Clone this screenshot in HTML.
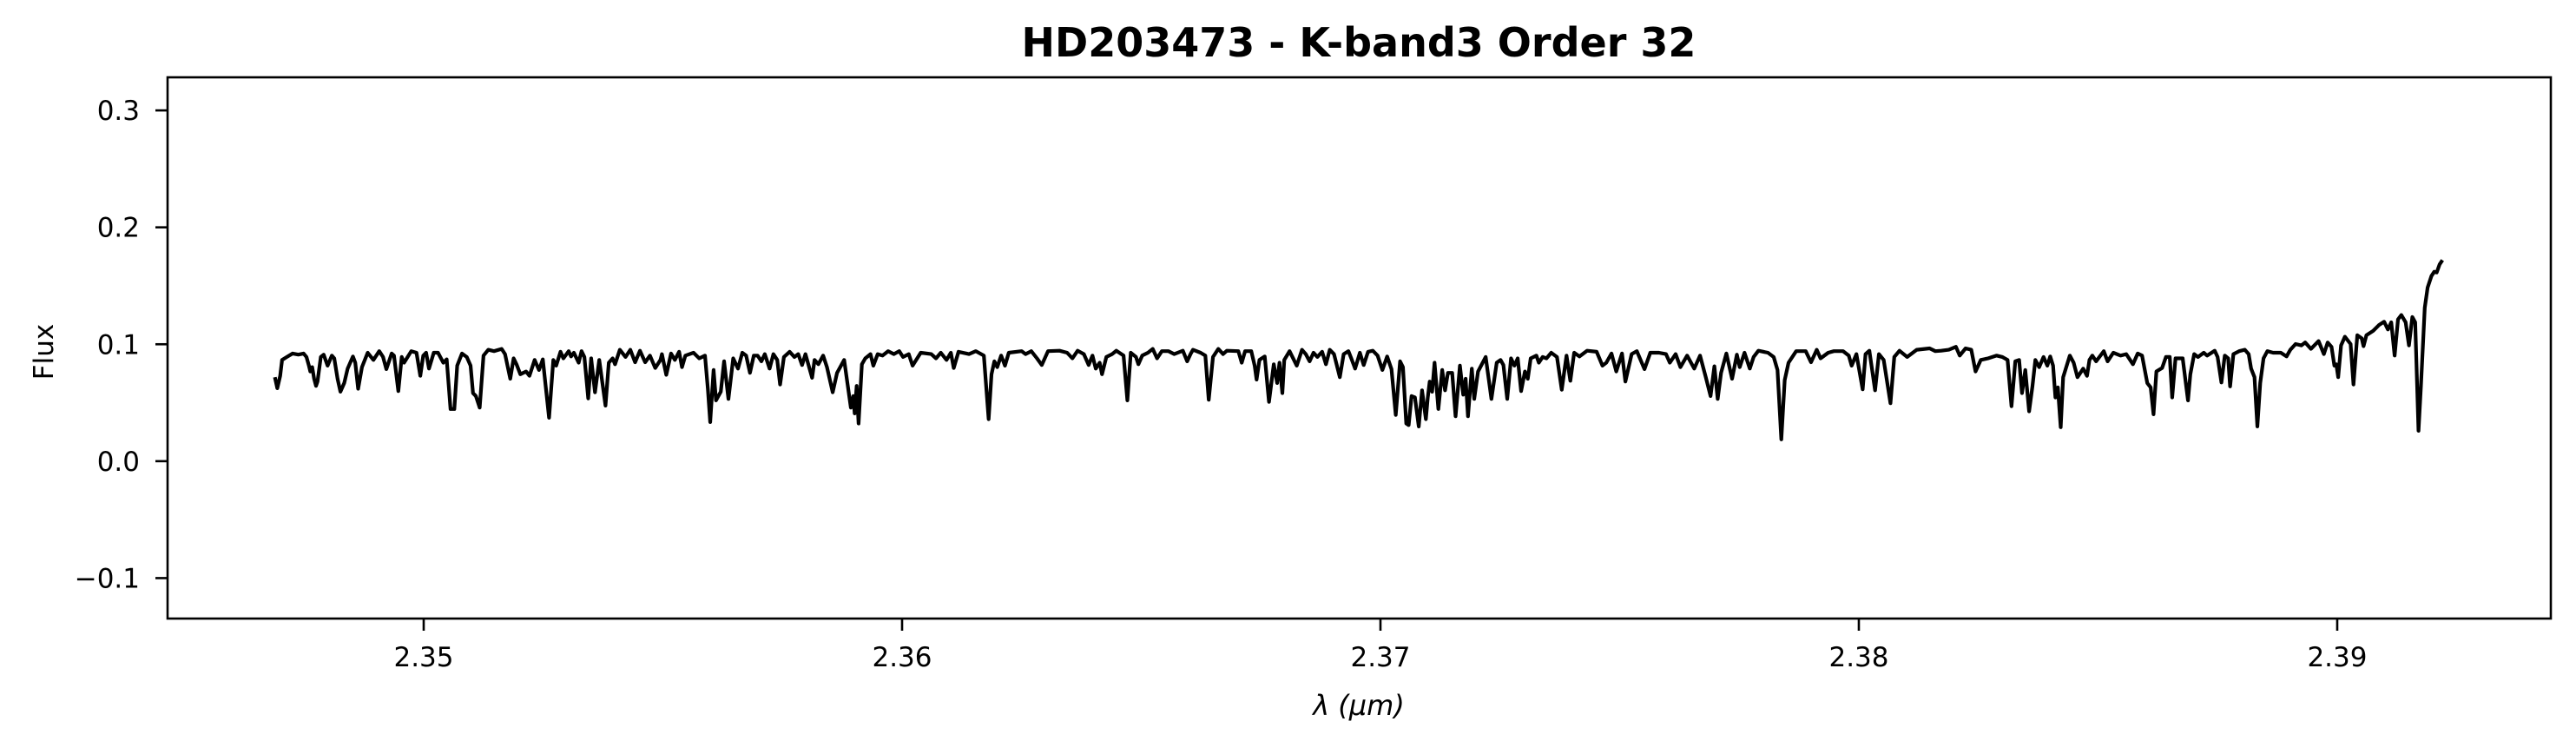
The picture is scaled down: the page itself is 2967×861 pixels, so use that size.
<!DOCTYPE html>
<html><head><meta charset="utf-8">
<style>
html,body{margin:0;padding:0;background:#fff;}
svg{display:block;}
text{font-family:"DejaVu Sans","Liberation Sans",sans-serif;fill:#000;}
</style></head>
<body>
<svg id="chart" width="2967" height="861" viewBox="0 0 2967 861" xmlns="http://www.w3.org/2000/svg">
<rect x="0" y="0" width="2967" height="861" fill="#fff"/>
<text x="1565" y="65" font-size="46" font-weight="bold" text-anchor="middle">HD203473 - K-band3 Order 32</text>
<g id="plot"></g>
<g id="xticks"></g>
<g id="yticks"></g>
<rect x="193" y="89" width="2745" height="623" fill="none" stroke="#000" stroke-width="2.6"/>
<text x="1565" y="823" font-size="32" font-style="italic" text-anchor="middle">λ (μm)</text>
<text x="61" y="405" font-size="31" text-anchor="middle" transform="rotate(-90 61 405)">Flux</text>
</svg>
<script>
const xTicks = [2.35, 2.36, 2.37, 2.38, 2.39];
const xTickLabels = ["2.35", "2.36", "2.37", "2.38", "2.39"];
const yTicks = [-0.1, 0.0, 0.1, 0.2, 0.3];
const yTickLabels = ["\u22120.1", "0.0", "0.1", "0.2", "0.3"];
const wavelength = [
2.34689,2.34694,2.34700,2.34704,2.34714,2.34726,2.34738,2.34749,2.34755,2.34760,2.34763,2.34767,2.34771,2.34775,2.34778,2.34785,2.34791,2.34799,2.34808,2.34813,2.34820,2.34826,2.34834,2.34841,2.34852,2.34857,2.34863,2.34871,2.34883,2.34895,2.34907,2.34915,2.34922,2.34933,2.34938,2.34947,2.34954,2.34959,2.34974,2.34985,2.34993,2.34999,2.35005,2.35011,2.35021,2.35030,2.35041,2.35048,2.35056,2.35064,2.35070,2.35080,2.35090,2.35098,2.35103,2.35109,2.35117,2.35125,2.35135,2.35147,2.35163,2.35170,2.35181,2.35188,2.35194,2.35202,2.35214,2.35221,2.35232,2.35241,2.35249,2.35262,2.35271,2.35277,2.35286,2.35292,2.35303,2.35308,2.35314,2.35324,2.35330,2.35336,2.35344,2.35350,2.35358,2.35367,2.35380,2.35387,2.35395,2.35400,2.35410,2.35422,2.35432,2.35442,2.35452,2.35463,2.35473,2.35484,2.35495,2.35498,2.35507,2.35517,2.35525,2.35534,2.35540,2.35547,2.35564,2.35576,2.35588,2.35594,2.35599,2.35606,2.35611,2.35621,2.35628,2.35637,2.35647,2.35657,2.35666,2.35674,2.35682,2.35690,2.35698,2.35706,2.35713,2.35723,2.35731,2.35739,2.35745,2.35753,2.35765,2.35775,2.35783,2.35791,2.35798,2.35812,2.35817,2.35825,2.35835,2.35843,2.35855,2.35864,2.35879,2.35893,
2.35898,2.35901,2.35905,2.35909,2.35916,2.35923,2.35934,2.35940,2.35949,2.35959,2.35971,2.35983,2.35994,2.36002,2.36014,2.36022,2.36039,2.36061,2.36071,2.36081,2.36093,2.36102,2.36108,2.36118,2.36140,2.36154,2.36171,2.36181,2.36187,2.36193,2.36199,2.36207,2.36215,2.36223,2.36250,2.36258,2.36270,2.36282,2.36292,2.36305,2.36329,2.36345,2.36356,2.36367,2.36380,2.36390,2.36398,2.36405,2.36413,2.36418,2.36427,2.36439,2.36448,2.36463,2.36471,2.36478,2.36489,2.36494,2.36502,2.36514,2.36524,2.36533,2.36543,2.36557,2.36569,2.36587,2.36596,2.36603,2.36608,2.36624,2.36634,2.36641,2.36650,2.36661,2.36671,2.36679,2.36703,2.36710,2.36717,2.36730,2.36737,2.36741,2.36747,2.36758,2.36767,2.36777,2.36784,2.36789,2.36795,2.36799,2.36810,2.36825,2.36836,2.36844,2.36852,2.36860,2.36868,2.36878,2.36886,2.36894,2.36903,2.36915,2.36923,2.36933,2.36939,2.36947,2.36957,2.36965,2.36974,2.36984,2.36994,2.37004,2.37014,2.37023,2.37032,2.37041,2.37047,2.37054,2.37059,2.37065,2.37072,2.37080,2.37087,
2.37095,2.37099,2.37103,2.37108,2.37113,2.37121,2.37129,2.37135,2.37141,2.37150,2.37157,2.37166,2.37173,2.37178,2.37183,2.37191,2.37196,2.37204,2.37220,2.37232,2.37243,2.37251,2.37257,2.37265,2.37273,2.37280,2.37287,2.37294,2.37302,2.37308,2.37314,2.37326,2.37331,2.37339,2.37347,2.37357,2.37369,2.37379,2.37389,2.37397,2.37405,2.37416,2.37432,2.37452,2.37464,2.37472,2.37483,2.37493,2.37505,2.37512,2.37525,2.37536,2.37552,2.37564,2.37582,2.37597,2.37605,2.37617,2.37627,2.37641,2.37656,2.37668,2.37680,2.37690,2.37698,2.37705,2.37712,2.37723,2.37735,2.37745,2.37751,2.37761,2.37772,2.37780,2.37790,2.37810,2.37822,2.37830,2.37838,2.37845,2.37853,2.37869,2.37889,2.37900,2.37912,2.37920,2.37936,2.37948,2.37967,2.37979,2.37985,2.37995,2.38008,2.38014,2.38022,2.38034,2.38042,2.38052,2.38066,2.38074,2.38085,2.38101,2.38121,2.38148,2.38160,2.38172,2.38188,2.38203,2.38211,2.38223,2.38235,2.38244,2.38255,2.38270,2.38288,
2.38300,2.38311,2.38319,2.38327,2.38335,2.38341,2.38348,2.38356,2.38363,2.38369,2.38377,2.38386,2.38394,2.38400,2.38406,2.38411,2.38416,2.38422,2.38427,2.38441,2.38449,2.38457,2.38469,2.38477,2.38482,2.38488,2.38496,2.38512,2.38520,2.38532,2.38547,2.38559,2.38573,2.38583,2.38592,2.38603,2.38610,2.38616,2.38622,2.38634,2.38642,2.38650,2.38655,2.38662,2.38677,2.38688,2.38693,2.38701,2.38709,2.38721,2.38728,2.38744,2.38750,2.38758,2.38765,2.38772,2.38776,2.38783,2.38795,2.38807,2.38815,2.38820,2.38827,2.38833,2.38839,2.38846,2.38854,2.38866,2.38882,2.38894,2.38902,2.38913,2.38925,2.38933,2.38945,2.38961,2.38972,2.38980,2.38988,2.38994,2.38998,2.39002,2.39008,2.39016,2.39028,2.39034,2.39042,2.39051,2.39055,2.39061,2.39075,2.39087,2.39098,2.39106,2.39113,2.39120,2.39127,2.39134,2.39143,2.39150,2.39157,2.39163,2.39170,2.39175,2.39183,2.39189,2.39197,2.39203,2.39208,2.39214,2.39220
];
const flux = [
.0718,.0624,.0730,.0866,.0891,.0921,.0911,.0921,.0891,.0817,.0767,.0804,.0705,.0644,.0681,.0891,.0911,.0817,.0903,.0879,.0705,.0594,.0668,.0792,.0896,.0842,.0619,.0804,.0928,.0866,.0941,.0891,.0787,.0921,.0903,.0599,.0891,.0842,.0941,.0928,.0730,.0903,.0928,.0792,.0928,.0928,.0842,.0871,.0446,.0446,.0817,.0921,.0891,.0817,.0582,.0557,.0458,.0903,.0953,.0941,.0960,.0916,.0705,.0879,.0829,.0743,.0767,.0730,.0866,.0780,.0871,.0371,.0866,.0817,.0936,.0879,.0941,.0896,.0928,.0842,.0941,.0891,.0537,.0879,.0589,.0866,.0475,.0842,.0879,.0829,.0953,.0891,.0953,.0846,.0945,.0846,.0903,.0797,.0866,.0916,.0738,.0921,.0866,.0936,.0804,.0903,.0928,.0879,.0903,.0619,.0334,.0780,.0520,.0594,.0854,.0532,.0879,.0792,.0928,.0903,.0755,.0903,.0903,.0854,.0916,.0792,.0916,.0866,.0656,.0891,.0936,.0891,.0916,.0822,.0916,.0713,.0866,.0829,.0903,.0804,.0589,.0755,.0866,.0458,
.0557,.0408,.0644,.0322,.0829,.0879,.0916,.0817,.0916,.0903,.0941,.0916,.0941,.0891,.0916,.0817,.0928,.0916,.0879,.0928,.0866,.0928,.0797,.0936,.0916,.0941,.0903,.0359,.0743,.0854,.0804,.0903,.0817,.0928,.0941,.0916,.0941,.0879,.0822,.0941,.0945,.0928,.0879,.0945,.0916,.0822,.0903,.0792,.0842,.0743,.0891,.0916,.0945,.0903,.0520,.0928,.0891,.0829,.0903,.0928,.0960,.0879,.0941,.0941,.0916,.0945,.0854,.0916,.0953,.0928,.0903,.0525,.0891,.0960,.0916,.0945,.0941,.0842,.0941,.0941,.0817,.0698,.0866,.0896,.0507,.0829,.0668,.0842,.0582,.0866,.0941,.0817,.0953,.0916,.0854,.0928,.0891,.0936,.0829,.0953,.0916,.0718,.0916,.0941,.0879,.0792,.0928,.0822,.0936,.0945,.0903,.0780,.0896,.0787,.0396,.0854,.0804,.0322,.0309,.0557,.0545,.0297,.0606,
.0359,.0545,.0681,.0594,.0842,.0446,.0780,.0606,.0755,.0755,.0384,.0817,.0569,.0705,.0384,.0792,.0532,.0767,.0891,.0532,.0842,.0866,.0822,.0532,.0879,.0817,.0879,.0599,.0767,.0705,.0879,.0903,.0842,.0891,.0879,.0928,.0891,.0611,.0903,.0688,.0928,.0896,.0945,.0936,.0817,.0842,.0921,.0767,.0921,.0681,.0916,.0941,.0787,.0928,.0928,.0916,.0842,.0916,.0804,.0903,.0792,.0903,.0718,.0557,.0812,.0532,.0755,.0921,.0705,.0911,.0804,.0928,.0792,.0891,.0945,.0928,.0891,.0780,.0186,.0693,.0842,.0941,.0941,.0846,.0953,.0879,.0928,.0941,.0941,.0903,.0817,.0916,.0614,.0916,.0945,.0606,.0916,.0866,.0495,.0891,.0945,.0891,.0953,.0965,.0941,.0945,.0953,.0978,.0903,.0965,.0953,.0767,.0866,.0879,.0903,
.0891,.0866,.0470,.0854,.0866,.0582,.0780,.0426,.0644,.0866,.0804,.0891,.0817,.0896,.0817,.0545,.0631,.0290,.0718,.0903,.0842,.0718,.0792,.0730,.0866,.0903,.0854,.0941,.0854,.0928,.0903,.0916,.0829,.0921,.0903,.0668,.0631,.0401,.0767,.0797,.0891,.0891,.0545,.0879,.0879,.0520,.0743,.0916,.0891,.0928,.0903,.0945,.0891,.0673,.0903,.0879,.0639,.0916,.0941,.0953,.0916,.0792,.0718,.0297,.0668,.0879,.0941,.0928,.0928,.0896,.0953,.1002,.0990,.1015,.0960,.1027,.0916,.1015,.0978,.0817,.0829,.0718,.0990,.1064,.1002,.0656,.1077,.1052,.0983,.1077,.1114,.1163,.1193,.1126,.1188,.0903,.1213,.1250,.1188,.0990,.1233,.1188,.0260,.0644,.1312,.1485,.1584,.1621,.1614,.1683,.1720
];

const NS = 'http://www.w3.org/2000/svg';
const plotL = 193, plotR = 2938, plotT = 89, plotB = 712;
const xMin = 2.344646, xMax = 2.394465, yMin = -0.1346, yMax = 0.3283;
function xScale(v){ return plotL + (v - xMin) / (xMax - xMin) * (plotR - plotL); }
function yScale(v){ return plotB - (v - yMin) / (yMax - yMin) * (plotB - plotT); }

const xg = document.getElementById('xticks');
xTicks.forEach((t, i) => {
  const x = xScale(t);
  const ln = document.createElementNS(NS, 'line');
  ln.setAttribute('x1', x); ln.setAttribute('x2', x);
  ln.setAttribute('y1', plotB); ln.setAttribute('y2', plotB + 14);
  ln.setAttribute('stroke', '#000'); ln.setAttribute('stroke-width', '2.6');
  
  
  xg.appendChild(ln);
  const tx = document.createElementNS(NS, 'text');
  tx.setAttribute('x', x); tx.setAttribute('y', 767);
  tx.setAttribute('font-size', '31'); tx.setAttribute('text-anchor', 'middle');
  tx.textContent = xTickLabels[i];
  
  
  xg.appendChild(tx);
});

const yg = document.getElementById('yticks');
yTicks.forEach((t, i) => {
  const y = yScale(t);
  const ln = document.createElementNS(NS, 'line');
  ln.setAttribute('x1', plotL - 14); ln.setAttribute('x2', plotL);
  ln.setAttribute('y1', y); ln.setAttribute('y2', y);
  ln.setAttribute('stroke', '#000'); ln.setAttribute('stroke-width', '2.6');
  
  
  yg.appendChild(ln);
  const tx = document.createElementNS(NS, 'text');
  tx.setAttribute('x', 161); tx.setAttribute('y', y + 11);
  tx.setAttribute('font-size', '31'); tx.setAttribute('text-anchor', 'end');
  tx.textContent = yTickLabels[i];
  
  
  yg.appendChild(tx);
});

let d = '';
for (let i = 0; i < wavelength.length; i++) {
  d += (i ? 'L' : 'M') + xScale(wavelength[i]).toFixed(1) + ',' + yScale(flux[i]).toFixed(1);
}
const path = document.createElementNS(NS, 'path');
path.setAttribute('d', d);
path.setAttribute('fill', 'none');
path.setAttribute('stroke', '#000');
path.setAttribute('stroke-width', '4.2');
path.setAttribute('stroke-linejoin', 'round');


document.getElementById('plot').appendChild(path);
</script>
</body></html>
